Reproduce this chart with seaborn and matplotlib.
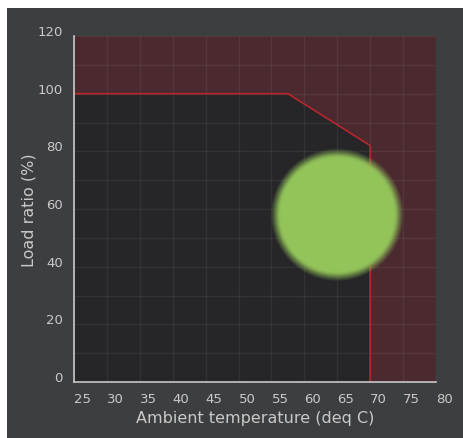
import numpy as np
import pandas as pd
import seaborn as sns
import matplotlib.pyplot as plt
from matplotlib.patches import Rectangle
from matplotlib.transforms import ScaledTranslation

# Derating curve (boundary of the allowed region)
curve_temp = [25, 57.5, 70, 70]
curve_load = [100, 100, 82, 0]

# Current operating point
op_temp = [65]
op_load = [58]

x_ticks = list(range(25, 81, 5))
y_ticks = list(range(0, 121, 20))
y_grid = list(range(0, 121, 10))

panel = "#3d3e40"
inside = "#262528"
outside = "#4a2a2f"
red_line = "#b8262e"
text_col = "#c9c9c9"
green = "#93c45a"

sns.set_theme(style="dark")
plt.rcParams['font.family'] = ['DejaVu Sans']

fig = plt.figure(figsize=(4.64, 4.39), dpi=100, facecolor="white")
fig.patches.append(Rectangle((7 / 464, 0), 1, 1 - 9 / 439, transform=fig.transFigure,
                             facecolor=panel, edgecolor="none", zorder=-10))
ax = fig.add_axes([74 / 464, 1 - 383 / 439, 362 / 464, 346 / 439])
ax.set_facecolor(outside)

df = pd.DataFrame({"temp": curve_temp, "load": curve_load})
ax.fill_between(df["temp"], df["load"], 0, color=inside, zorder=0.2, linewidth=0)
sns.lineplot(data=df, x="temp", y="load", sort=False, estimator=None, color=red_line,
             linewidth=1.2, ax=ax, zorder=2)

# blurred operating point
pt = pd.DataFrame({"temp": op_temp, "load": op_load})
for r, a in zip(np.linspace(66, 56, 11), [0.12, 0.12, 0.15, 0.18, 0.22, 0.3, 0.4, 0.55, 0.7, 0.85, 1.0]):
    d = 2 * r * 0.72
    sns.scatterplot(data=pt, x="temp", y="load", s=d ** 2, color=green, alpha=a,
                    edgecolor="none", linewidth=0, ax=ax, zorder=3, legend=False)

ax.set_xlim(25, 80)
ax.set_ylim(0, 120)
ax.set_xticks(x_ticks)
ax.set_yticks(y_ticks)
ax.set_yticks(y_grid, minor=True)
ax.set_axisbelow(True)
ax.grid(True, which="both", color="white", alpha=0.06, linewidth=1)
ax.tick_params(axis="both", which="both", length=0, colors=text_col, labelsize=9.5)
ax.tick_params(axis="x", pad=7)
ax.tick_params(axis="y", pad=8)
for lab in ax.get_xticklabels():
    lab.set_horizontalalignment("left")
for lab in ax.get_yticklabels():
    lab.set_verticalalignment("baseline")
    lab.set_transform(lab.get_transform() + ScaledTranslation(0, 1 / 100, fig.dpi_scale_trans))

for s in ["top", "right"]:
    ax.spines[s].set_visible(False)
for s in ["left", "bottom"]:
    ax.spines[s].set_color("#c8c8c8")
    ax.spines[s].set_linewidth(1.2)

ax.set_xlabel("Ambient temperature (deq C)", color=text_col, fontsize=11.5, labelpad=4)
ax.set_ylabel("Load ratio (%)", color=text_col, fontsize=11.5, labelpad=1)

fig.savefig("out.png", dpi=100, facecolor="white")
